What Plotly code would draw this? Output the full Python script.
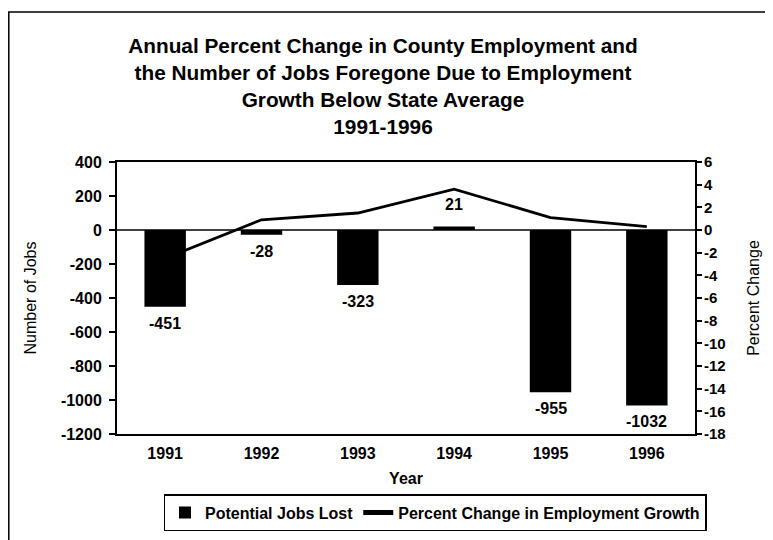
import plotly.graph_objects as go

years = ["1991", "1992", "1993", "1994", "1995", "1996"]
jobs_lost = [-451, -28, -323, 21, -955, -1032]
pct_change = [-2.5, 0.9, 1.5, 3.6, 1.1, 0.3]
left_ticks = [400, 200, 0, -200, -400, -600, -800, -1000, -1200]
right_ticks = [6, 4, 2, 0, -2, -4, -6, -8, -10, -12, -14, -16, -18]

OFF = 8  # page body margin
W, H = 773 - OFF, 540 - OFF
# plot area in reference pixels: x 117..695, y 162..434
ML, MR, MT, MB = 117 - OFF, 773 - 695, 162 - OFF, 540 - 434
PW, PH = W - ML - MR, H - MT - MB

def px_x(x):
    return (x - OFF - ML) / PW

def px_y(y):
    return (H - MB - (y - OFF)) / PH

FONT = "Arial, Liberation Sans, sans-serif"

fig = go.Figure()
fig.add_trace(go.Bar(
    x=years, y=jobs_lost, name="<b>Potential Jobs Lost</b>",
    marker=dict(color="black", line=dict(width=0)),
    yaxis="y",
))
fig.add_trace(go.Scatter(
    x=years, y=pct_change, name="<b>Percent Change in Employment Growth</b>",
    mode="lines", line=dict(color="black", width=2.8),
    yaxis="y2",
))

for i, v in enumerate(jobs_lost):
    fig.add_annotation(
        x=i, y=v, xref="x", yref="y", text=f"<b>{v}</b>", showarrow=False,
        yanchor="top" if v < 0 else "bottom",
        yshift=-6 if v < 0 else 11,
        font=dict(family=FONT, size=16, color="black"),
    )

# zero line
fig.add_shape(type="line", xref="paper", yref="y", x0=0, x1=1, y0=0, y1=0,
              line=dict(color="black", width=1.5))
# outer frame
fig.add_shape(type="rect", xref="paper", yref="paper",
              x0=px_x(OFF + 0.8), x1=px_x(768), y0=px_y(560), y1=px_y(12),
              line=dict(color="black", width=1.5), layer="below")

fig.update_layout(
    width=W, height=H,
    margin=dict(l=ML, r=MR, t=MT, b=MB, autoexpand=False),
    paper_bgcolor="white", plot_bgcolor="white",
    font=dict(family=FONT, color="black"),
    title=dict(
        text="<b>Annual Percent Change in County Employment and<br>"
             "the Number of Jobs Foregone Due to Employment<br>"
             "Growth Below State Average<br>1991-1996</b>",
        x=(383 - OFF) / W, xanchor="center", xref="container", y=1 - 45 / H, yanchor="top", yref="container",
        font=dict(family=FONT, size=20.8, color="black"),
    ),
    bargap=0.57,
    showlegend=True,
    legend=dict(
        orientation="h", x=px_x(435), xanchor="center", y=px_y(494), yanchor="top",
        bordercolor="black", borderwidth=1.5, bgcolor="white",
        font=dict(family=FONT, size=16, color="black"),
        itemsizing="constant", tracegroupgap=0, itemwidth=30,
    ),
    xaxis=dict(
        type="category", range=[-0.5, len(years) - 0.5], autorange=False,
        showline=True, linecolor="black", linewidth=2, mirror=True,
        ticks="", tickfont=dict(family=FONT, size=16, color="black"),
        tickvals=years, ticktext=[f"<b>{y}</b>" for y in years],
        ticklabelstandoff=4,
        title=dict(text="<b>Year</b>", font=dict(family=FONT, size=16, color="black"), standoff=12),
        showgrid=False, zeroline=False,
    ),
    yaxis=dict(
        range=[-1200, 400], tickvals=left_ticks, ticktext=[f"<b>{t}</b>" for t in left_ticks],
        showline=True, linecolor="black", linewidth=2, mirror=False,
        ticks="outside", ticklen=6, tickwidth=1.5, tickcolor="black",
        ticklabelstandoff=4,
        tickfont=dict(family=FONT, size=16, color="black"),
        title=dict(text="Number of Jobs", font=dict(family=FONT, size=16, color="black"), standoff=20),
        showgrid=False, zeroline=False,
    ),
    yaxis2=dict(
        range=[-18, 6], tickvals=right_ticks, ticktext=[f"<b>{t}</b>" for t in right_ticks],
        overlaying="y", side="right",
        showline=True, linecolor="black", linewidth=2,
        ticks="outside", ticklen=5, tickwidth=1.5, tickcolor="black",
        ticklabelstandoff=-1,
        tickfont=dict(family=FONT, size=15, color="black"),
        title=dict(text="Percent Change", font=dict(family=FONT, size=16, color="black"), standoff=22),
        showgrid=False, zeroline=False,
    ),
)

fig.write_html("out.html")
